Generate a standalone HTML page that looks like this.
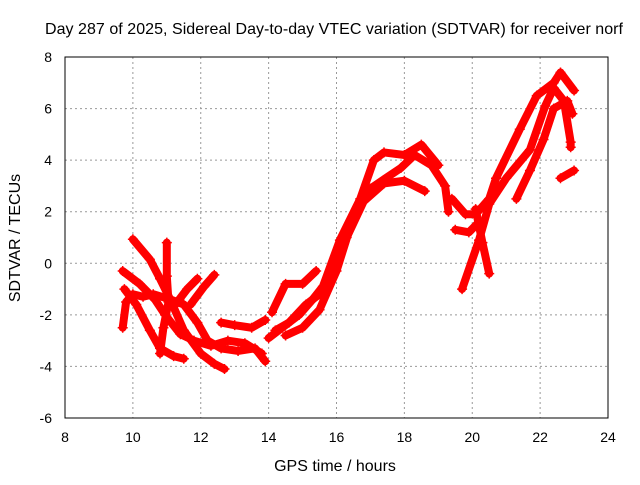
<!DOCTYPE html>
<html><head><meta charset="utf-8"><style>
body{margin:0;background:#fff}
svg text{font-family:"Liberation Sans",sans-serif;font-size:14px;fill:#000}
svg text.big{font-size:16px}
</style></head><body>
<svg id="chart" width="640" height="480">
<text class="big" x="334" y="34" text-anchor="middle" textLength="578">Day 287 of 2025, Sidereal Day-to-day VTEC variation (SDTVAR) for receiver norf</text>
<text class="big" x="335" y="471" text-anchor="middle">GPS time / hours</text>
<text class="big" transform="translate(20,238) rotate(-90)" text-anchor="middle">SDTVAR / TECUs</text>
<g id="grid"></g><g id="marks"></g>
<rect x="65" y="57" width="543" height="361" fill="none" stroke="#000" stroke-width="1"/>
</svg>
<script>
const xTicks=[8,10,12,14,16,18,20,22,24];
const yTicks=[-6,-4,-2,0,2,4,6,8];
const track1=[[10.0,0.93],[10.5,0.15],[10.8,-0.6],[11.1,-1.4],[11.5,-2.6],[12.0,-3.5],[12.4,-3.9],[12.7,-4.1]];
const track2=[[9.7,-0.3],[10.2,-0.8],[10.65,-1.4],[10.95,-2.0],[11.4,-2.75],[11.8,-3.0],[12.3,-3.2],[12.8,-3.0],[13.3,-3.1],[13.8,-3.5]];
const track3=[[9.75,-1.0],[10.1,-1.6],[10.5,-2.6],[10.8,-3.3],[11.2,-3.6],[11.5,-3.7]];
const track4=[[9.7,-2.5],[9.8,-1.5],[10.0,-1.2],[10.3,-1.3],[10.6,-1.2],[11.1,-1.4],[11.5,-1.6],[11.9,-2.3],[12.2,-3.0],[12.6,-3.3],[13.1,-3.4],[13.6,-3.3],[13.9,-3.8]];
const track5=[[11.0,0.8],[11.0,-0.5],[11.05,-1.5],[10.9,-2.5],[10.8,-3.5]];
const track6=[[11.25,-1.6],[11.6,-1.0],[11.9,-0.6]];
const track7=[[11.7,-1.6],[12.1,-0.9],[12.4,-0.45]];
const track8=[[12.6,-2.3],[13.0,-2.4],[13.5,-2.5],[13.9,-2.2]];
const track9=[[14.0,-2.9],[14.4,-2.5],[14.9,-2.0],[15.3,-1.4],[15.6,-0.9],[16.1,0.9],[16.7,2.5],[17.1,4.0],[17.4,4.3],[18.0,4.2],[18.5,4.6],[19.0,3.8]];
const track10=[[14.2,-2.6],[14.6,-2.3],[15.1,-1.6],[15.5,-1.2],[15.9,-0.3],[16.3,1.0],[16.8,2.4],[17.4,3.1],[18.0,3.2],[18.6,2.8]];
const track11=[[14.1,-1.9],[14.5,-0.8],[15.0,-0.8],[15.4,-0.3]];
const track12=[[14.5,-2.8],[15.0,-2.5],[15.5,-1.8],[16.0,-0.3],[16.5,1.8],[17.0,2.9],[17.9,3.7],[18.3,4.2],[18.8,3.8],[19.2,3.0],[19.3,2.0]];
const track13=[[19.4,2.5],[19.8,1.9],[20.1,1.9],[20.5,2.5],[20.7,3.3],[21.4,5.2],[21.9,6.5],[22.4,7.0],[22.6,7.4],[23.0,6.7]];
const track14=[[20.1,2.1],[20.3,0.8],[20.5,-0.4]];
const track15=[[19.7,-1.0],[20.2,0.9],[20.5,2.3],[21.0,3.3],[21.7,4.4],[22.15,6.1],[22.4,6.8],[22.7,6.3],[22.9,4.7],[22.9,4.5]];
const track16=[[21.3,2.5],[21.7,3.6],[22.1,4.8],[22.4,6.0],[22.8,6.3],[22.95,5.8]];
const track17=[[22.6,3.3],[23.0,3.6]];
const track18=[[19.5,1.3],[19.9,1.2],[20.2,1.6]];
const tracks=[track1,track2,track3,track4,track5,track6,track7,track8,track9,track10,track11,track12,track13,track14,track15,track16,track17,track18];
const X=h=>65+(h-8)*543/16, Y=v=>418-(v+6)*361/14;
const NS="http://www.w3.org/2000/svg";
const g=document.getElementById('grid'),m=document.getElementById('marks'),svg=document.getElementById('chart');
xTicks.forEach(t=>{
 if(t>8&&t<24){const l=document.createElementNS(NS,'line');l.setAttribute('x1',X(t));l.setAttribute('x2',X(t));l.setAttribute('y1',57);l.setAttribute('y2',418);l.setAttribute('stroke','#999');l.setAttribute('stroke-dasharray','2,3');
 
 g.appendChild(l);}
 const tx=document.createElementNS(NS,'text');tx.setAttribute('x',X(t));tx.setAttribute('y',442);tx.setAttribute('text-anchor','middle');tx.textContent=t;
 
 svg.appendChild(tx);
});
yTicks.forEach(t=>{
 if(t>-6&&t<8){const l=document.createElementNS(NS,'line');l.setAttribute('x1',65);l.setAttribute('x2',608);l.setAttribute('y1',Y(t));l.setAttribute('y2',Y(t));l.setAttribute('stroke','#999');l.setAttribute('stroke-dasharray','2,3');
 
 g.appendChild(l);}
 const tx=document.createElementNS(NS,'text');tx.setAttribute('x',52);tx.setAttribute('y',Y(t)+5);tx.setAttribute('text-anchor','end');tx.textContent=t;
 
 svg.appendChild(tx);
});
tracks.forEach(tr=>{
 const p=document.createElementNS(NS,'polyline');
 p.setAttribute('points',tr.map(d=>X(d[0])+','+Y(d[1])).join(' '));
 p.setAttribute('fill','none');p.setAttribute('stroke','#f00');p.setAttribute('stroke-width','8');p.setAttribute('stroke-linejoin','round');p.setAttribute('stroke-linecap','round');
 
 
 m.appendChild(p);
 tr.forEach(d=>{const c=document.createElementNS(NS,'path');const x=X(d[0]),y=Y(d[1]);
  c.setAttribute('d',`M${x-5},${y}H${x+5}M${x},${y-5}V${y+5}`);c.setAttribute('stroke','#f00');c.setAttribute('stroke-width','1.5');
  
  
  m.appendChild(c);});
});
</script>
</body></html>
